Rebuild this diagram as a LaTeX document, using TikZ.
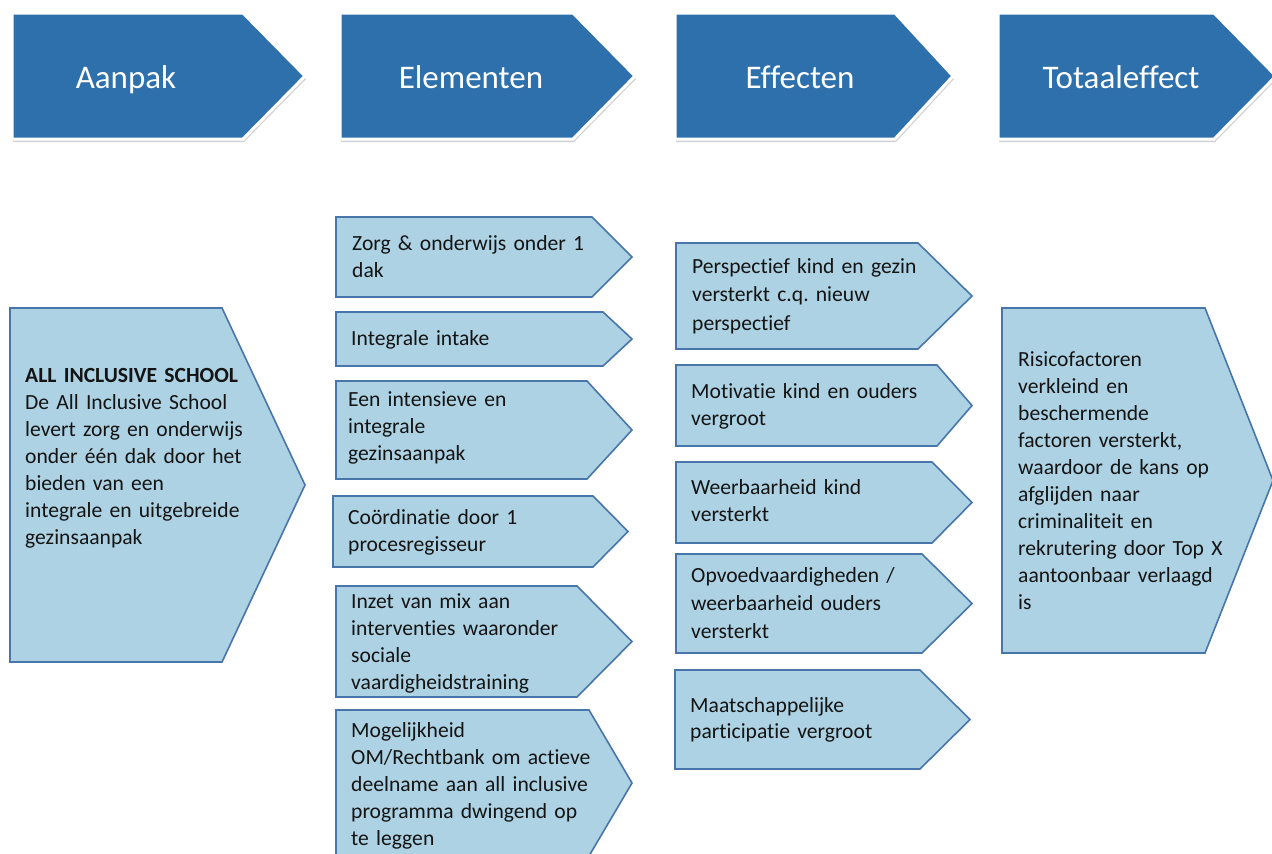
\documentclass[tikz,border=0pt]{standalone}
\usepackage{fontspec}
\setmainfont{Carlito}[Ligatures=NoCommon]
\frenchspacing
\usetikzlibrary{shadows}
\definecolor{hdrblue}{RGB}{46,112,172}
\definecolor{boxfill}{RGB}{173,210,227}
\definecolor{boxline}{RGB}{72,118,170}
\definecolor{bodytext}{RGB}{20,20,20}
\newcommand\chevronpath[6]{%
  \path[#1] (#2,#3) -- (#5,#3) -- (#6,{(#3+#4)/2}) -- (#5,#4) -- (#2,#4) -- cycle;}
\tikzset{
  hdrshape/.style={fill=hdrblue, draw=white, line width=3pt, line join=miter,
    drop shadow={opacity=0.35, shadow xshift=1pt, shadow yshift=-3pt}},
  hdrtext/.style={text=white, font=\fontsize{33}{40}\selectfont, anchor=base, inner sep=0pt},
  boxshape/.style={fill=boxfill, draw=boxline, line width=1.6pt, line join=miter},
  boxtext/.style={anchor=base west, inner sep=0pt, text width=380pt, align=left,
    font=\fontsize{21.6}{27}\selectfont\frenchspacing, text=bodytext},
}
\begin{document}
\begin{tikzpicture}[x=1pt,y=-1pt]
\useasboundingbox[fill=white] (0,0) rectangle (1272,854);
% headers
\chevronpath{hdrshape}{12}{13}{139}{243}{305}
\chevronpath{hdrshape}{340}{13}{139}{573}{635}
\chevronpath{hdrshape}{675}{13}{139}{895}{953}
\chevronpath{hdrshape}{998}{13}{139}{1214}{1276}
\node[hdrtext] (h1) at (126,88) {Aanpak};
\node[hdrtext] (h2) at (471,88) {Elementen};
\node[hdrtext] (h3) at (800,88) {Effecten};
\node[hdrtext] (h4) at (1121,88) {Totaaleffect};
% Aanpak
\chevronpath{boxshape}{10}{308}{662}{222}{305}
\node[boxtext] (a1) at (25,382) {\textbf{ALL INCLUSIVE SCHOOL}\\De All Inclusive School\\levert zorg en onderwijs\\onder één dak door het\\bieden van een\\integrale en uitgebreide\\gezinsaanpak};
% Elementen
\chevronpath{boxshape}{336}{217}{297}{592}{632}
\node[boxtext] (e1) at (352,250) {Zorg \& onderwijs onder 1\\dak};
\chevronpath{boxshape}{336}{312}{366}{603}{632}
\node[boxtext] (e2) at (351,345) {Integrale intake};
\chevronpath{boxshape}{336}{381}{479}{587}{632}
\node[boxtext] (e3) at (348,406) {Een intensieve en\\integrale\\gezinsaanpak};
\chevronpath{boxshape}{333}{496}{567}{593}{628}
\node[boxtext] (e4) at (348,524) {Coördinatie door 1\\procesregisseur};
\chevronpath{boxshape}{336}{586}{697}{577}{632}
\node[boxtext] (e5) at (351,608) {Inzet van mix aan\\interventies waaronder\\sociale\\vaardigheidstraining};
\chevronpath{boxshape}{336}{710}{856}{589}{632}
\node[boxtext] (e6) at (351,737) {Mogelijkheid\\OM/Rechtbank om actieve\\deelname aan all inclusive\\programma dwingend op\\te leggen};
% Effecten
\chevronpath{boxshape}{676}{243}{349}{918}{972}
\node[boxtext, font=\fontsize{21.6}{28.5}\selectfont\frenchspacing] (f1) at (692,273) {Perspectief kind en gezin\\versterkt c.q. nieuw\\perspectief};
\chevronpath{boxshape}{676}{365}{446}{937}{972}
\node[boxtext] (f2) at (691,398) {Motivatie kind en ouders\\vergroot};
\chevronpath{boxshape}{676}{462}{543}{932}{972}
\node[boxtext] (f3) at (691,494) {Weerbaarheid kind\\versterkt};
\chevronpath{boxshape}{676}{554}{653}{922}{972}
\node[boxtext, font=\fontsize{21.6}{28}\selectfont\frenchspacing] (f4) at (691,582) {Opvoedvaardigheden /\\weerbaarheid ouders\\versterkt};
\chevronpath{boxshape}{675}{670}{769}{920}{970}
\node[boxtext, font=\fontsize{21.6}{26}\selectfont\frenchspacing] (f5) at (690,712) {Maatschappelijke\\participatie vergroot};
% Totaaleffect
\chevronpath{boxshape}{1002}{308}{653}{1205}{1273}
\node[boxtext] (t1) at (1018,366) {Risicofactoren\\verkleind en\\beschermende\\factoren versterkt,\\waardoor de kans op\\afglijden naar\\criminaliteit en\\rekrutering door Top X\\aantoonbaar verlaagd\\is};
\end{tikzpicture}
\end{document}
